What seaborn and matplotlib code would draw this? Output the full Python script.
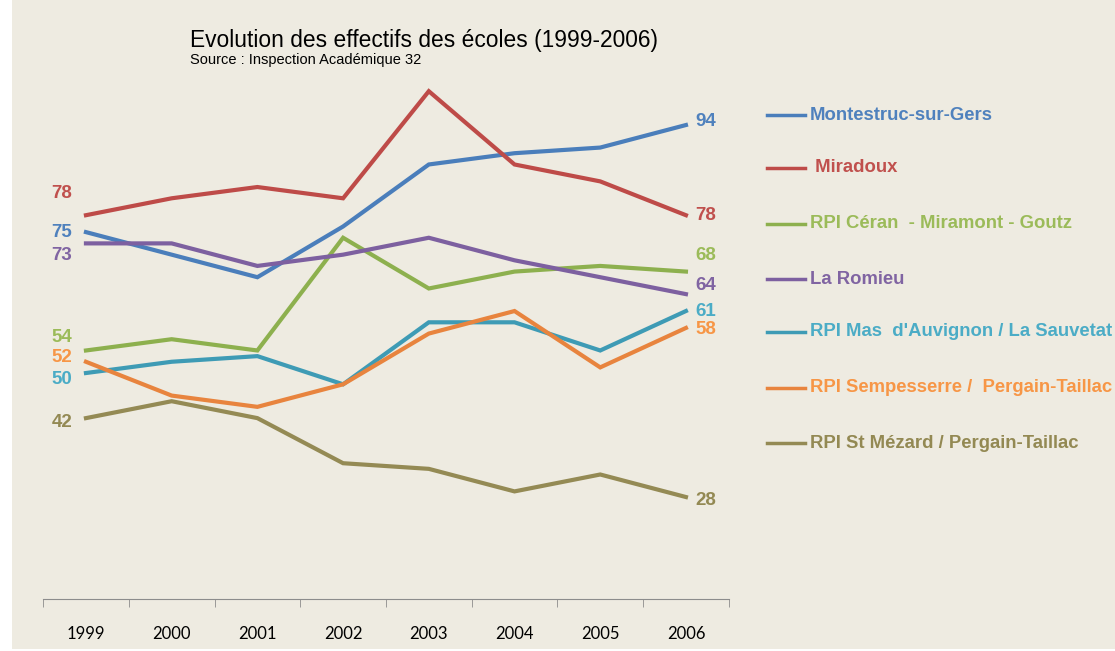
import pandas as pd
import matplotlib.pyplot as plt
import seaborn as sns
from matplotlib.patches import Rectangle

years = ["1999", "2000", "2001", "2002", "2003", "2004", "2005", "2006"]
schools = ["Montestruc-sur-Gers", " Miradoux", "RPI Céran  - Miramont - Goutz",
           "La Romieu", "RPI Mas  d'Auvignon / La Sauvetat",
           "RPI Sempesserre /  Pergain-Taillac", "RPI St Mézard / Pergain-Taillac"]
montestruc = [75, 71, 67, 76, 87, 89, 90, 94]
miradoux = [78, 81, 83, 81, 100, 87, 84, 78]
ceran = [54, 56, 54, 74, 65, 68, 69, 68]
romieu = [73, 73, 69, 71, 74, 70, 67, 64]
auvignon = [50, 52, 53, 48, 59, 59, 54, 61]
sempesserre = [52, 46, 44, 48, 57, 61, 51, 58]
mezard = [42, 45, 42, 34, 33, 29, 32, 28]

line_colors = ["#4A7EBB", "#BE4B48", "#8DB04E", "#7D60A0", "#3E9BB5", "#E8843E", "#948A54"]
text_colors = ["#4F81BD", "#C0504D", "#9BBB59", "#8064A2", "#4BACC6", "#F79646", "#938953"]

series = [montestruc, miradoux, ceran, romieu, auvignon, sempesserre, mezard]
rows = []
for name, vals in zip(schools, series):
    for i, v in enumerate(vals):
        rows.append({"idx": i, "value": v, "school": name})
df = pd.DataFrame(rows)

# label offsets in pixels (left end, right end) so the numbers don't overlap
left_off = [0, 22, 13, -12, -6, 4, -4]
right_off = [4, 0, 16, 9, 0, -2, -3]

bg = "#EEEBE1"
fig = plt.figure(figsize=(11.15, 6.51), dpi=100)
fig.patch.set_facecolor("white")
fig.patches.append(Rectangle((12 / 1115, 0.003), 1, 1, transform=fig.transFigure,
                             facecolor=bg, edgecolor="none", zorder=-10))
ax = fig.add_axes([43.1 / 1115, 1 - 598.5 / 651, 685.7 / 1115, (598.5 - 91.2) / 651])
ax.set_facecolor(bg)
ax.patch.set_alpha(0)

sns.lineplot(data=df, x="idx", y="value", hue="school", hue_order=schools,
             palette=line_colors, linewidth=3, legend=False, ax=ax)
for l in ax.lines:
    l.set_clip_on(False)
    l.set_solid_joinstyle("miter")

ax.set_xlim(-0.5, 7.5)
ax.set_ylim(10, 100)
for s in ["top", "right", "left"]:
    ax.spines[s].set_visible(False)
ax.spines["bottom"].set_color("#8C8C8C")
ax.set_yticks([])
ax.set_xticks(range(8))
ax.set_xticklabels(years, fontsize=12, family="Lato")
ax.set_xticks([i - 0.5 for i in range(9)], minor=True)
ax.tick_params(axis="x", which="major", length=0, pad=20)
ax.tick_params(axis="x", which="minor", length=6, color="#8C8C8C", direction="out")
ax.set_xlabel("")
ax.set_ylabel("")

num = dict(fontsize=13.5, fontweight="bold", family="Liberation Sans")
for name, vals, tc, lo, ro in zip(schools, series, text_colors, left_off, right_off):
    ax.annotate(str(vals[0]), (0, vals[0]), xytext=(-10, lo * 0.72), textcoords="offset points",
                ha="right", va="center", color=tc, **num)
    ax.annotate(str(vals[-1]), (7, vals[-1]), xytext=(7, ro * 0.72), textcoords="offset points",
                ha="left", va="center", color=tc, **num)

# legend drawn by hand on the right
leg = dict(fontsize=13.3, fontweight="bold", family="Liberation Sans")
leg_y = [115, 168, 224, 279, 332, 388, 443]
for name, lc, tc, yy in zip(schools, line_colors, text_colors, leg_y):
    fy = 1 - yy / 651
    fig.add_artist(plt.Line2D([767 / 1115, 805 / 1115], [fy, fy], color=lc, linewidth=2.5,
                              transform=fig.transFigure))
    fig.text(810 / 1115, fy, name, color=tc, ha="left", va="center", **leg)

fig.text(190 / 1115, 1 - 40 / 651, "Evolution des effectifs des écoles (1999-2006)",
         fontsize=16.4, family="Liberation Sans", va="center")
fig.text(190 / 1115, 1 - 60 / 651, "Source : Inspection Académique 32",
         fontsize=10.5, family="Liberation Sans", va="center")

fig.savefig("out.png", dpi=100, facecolor=fig.get_facecolor())
